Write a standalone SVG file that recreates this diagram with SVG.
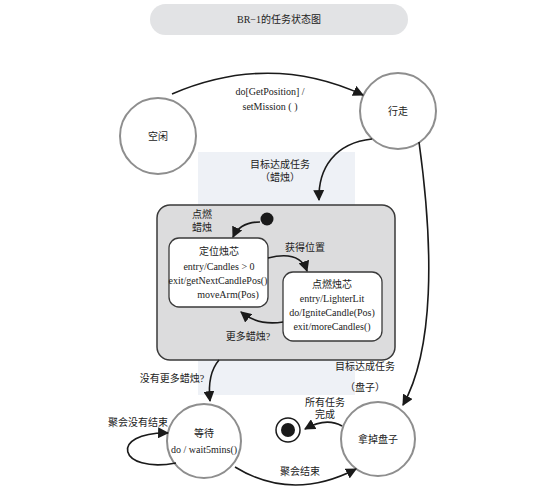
<svg xmlns="http://www.w3.org/2000/svg" width="533" height="489" viewBox="0 0 533 489">
<defs>
<marker id="ah" viewBox="0 0 10 10" refX="9" refY="5" markerWidth="11" markerHeight="11" markerUnits="userSpaceOnUse" orient="auto">
<path d="M0,0 L10,5 L0,10 Z" fill="#1a1a1a"/>
</marker>
<style>
.t{font-family:"Liberation Serif","Noto Sans CJK SC",serif;font-size:10px;fill:#222;text-anchor:middle;}
.s{fill:#fff;stroke:#8e8e8e;stroke-width:2;}
.b{fill:#fff;stroke:#3a3a3a;stroke-width:1.3;}
.e{fill:none;stroke:#1a1a1a;stroke-width:1.6;marker-end:url(#ah);}
</style>
</defs>
<rect width="533" height="489" fill="#fff"/>
<rect x="198" y="152" width="157" height="243" fill="#eef1f6"/>
<g id="title">
<rect x="150" y="4" width="258" height="31" rx="15.5" fill="#e2e3e5"/>
<text class="t" x="279" y="23">BR−1的任务状态图</text>
</g>
<g id="idle">
<circle class="s" cx="158" cy="136" r="38"/>
<text class="t" x="158" y="140">空闲</text>
</g>
<g id="walk">
<circle class="s" cx="398" cy="111" r="38"/>
<text class="t" x="398" y="115">行走</text>
</g>
<g id="composite">
<rect x="157" y="205" width="238" height="155" rx="13" fill="#dcdcdd" stroke="#3a3a3a" stroke-width="1.5"/>
<text class="t" x="202" y="218">点燃</text>
<text class="t" x="202" y="231">蜡烛</text>
</g>
<g id="initial">
<circle cx="267" cy="219" r="6.5" fill="#1a1a1a"/>
</g>
<g id="locate">
<rect class="b" x="169" y="238" width="99" height="69" rx="10"/>
<text class="t" x="219" y="255">定位烛芯</text>
<text class="t" x="219" y="270">entry/Candles &gt; 0</text>
<text class="t" x="218" y="284">exit/getNextCandlePos()</text>
<text class="t" x="228" y="298">moveArm(Pos)</text>
</g>
<g id="ignite">
<rect class="b" x="283" y="272" width="99" height="69" rx="10"/>
<text class="t" x="332" y="288">点燃烛芯</text>
<text class="t" x="332" y="302">entry/LighterLit</text>
<text class="t" x="332" y="316">do/IgniteCandle(Pos)</text>
<text class="t" x="332" y="330">exit/moreCandles()</text>
</g>
<g id="wait">
<circle class="s" cx="204" cy="441" r="37"/>
<text class="t" x="204" y="437">等待</text>
<text class="t" x="204" y="453">do / wait5mins()</text>
</g>
<g id="remove">
<circle class="s" cx="378" cy="439" r="37"/>
<text class="t" x="378" y="443">拿掉盘子</text>
</g>
<g id="final">
<circle cx="288" cy="430" r="12" fill="#fff" stroke="#1a1a1a" stroke-width="1.5"/>
<circle cx="288" cy="430" r="7" fill="#1a1a1a"/>
</g>
<g id="connectors">
<path class="e" d="M172,94 Q270,52 363,95"/>
<path class="e" d="M372,139 C335,143 318,168 319,200"/>
<path class="e" d="M260,222 Q240,222 233,237"/>
<path class="e" d="M268,258 Q300,250 307,271"/>
<path class="e" d="M283,322 Q258,326 241,312"/>
<path class="e" d="M219,360 Q207,374 210,401"/>
<path class="e" d="M176,463 C118,474 108,432 168,433"/>
<path class="e" d="M235,467 Q292,502 356,469"/>
<path class="e" d="M342,426 Q326,417 305,429"/>
<path class="e" d="M419,142 C434,250 434,350 403,405"/>
</g>
<g id="labels">
<text class="t" x="270" y="95">do[GetPosition] /</text>
<text class="t" x="270" y="110">setMission ( )</text>
<text class="t" x="280" y="168">目标达成任务</text>
<text class="t" x="280" y="181">（蜡烛）</text>
<text class="t" x="305" y="251">获得位置</text>
<text class="t" x="248" y="340">更多蜡烛?</text>
<text class="t" x="172" y="382">没有更多蜡烛?</text>
<text class="t" x="365" y="370">目标达成任务</text>
<text class="t" x="365" y="391">（盘子）</text>
<text class="t" x="325" y="406">所有任务</text>
<text class="t" x="325" y="418">完成</text>
<text class="t" x="138" y="426">聚会没有结束</text>
<text class="t" x="300" y="475">聚会结束</text>
</g>
</svg>
